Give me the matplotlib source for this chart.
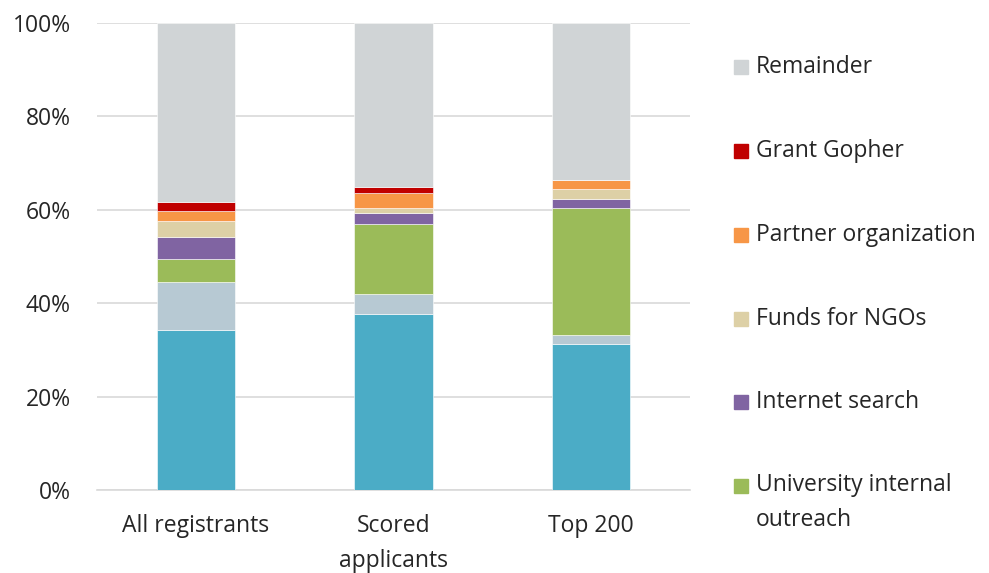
import matplotlib
matplotlib.use("Agg")
import matplotlib.pyplot as plt
from matplotlib.patches import Rectangle
from matplotlib.ticker import FuncFormatter

categories = ["All registrants", "Scored\napplicants", "Top 200"]
series_names = ["Other channel A", "Other channel B", "University internal\noutreach",
                "Internet search", "Funds for NGOs", "Partner organization",
                "Grant Gopher", "Remainder"]
blue = [34.3, 37.7, 31.2]
light_blue = [10.3, 4.3, 1.9]
university = [4.8, 14.9, 27.2]
internet = [4.7, 2.4, 2.0]
funds_ngos = [3.4, 1.0, 2.1]
partner = [2.2, 3.2, 2.0]
grant_gopher = [2.0, 1.4, 0.0]
remainder = [38.3, 35.1, 33.6]

values = [blue, light_blue, university, internet, funds_ngos, partner, grant_gopher, remainder]
colors = ["#4BACC6", "#B7C9D3", "#9BBB59", "#8064A2", "#DDD0A6", "#F79646", "#C00000", "#D0D4D6"]

FS = 16.5
LS = 1.62
TXT = "#262626"
plt.rcParams['font.family'] = ['Open Sans', 'DejaVu Sans']
fig = plt.figure(figsize=(9.89, 5.73), dpi=100)
W, H = 989, 573
ax = fig.add_axes([97 / W, 1 - 490 / H, (690 - 97) / W, (490 - 23) / H])

x = list(range(len(categories)))
bottom = [0.0] * len(categories)
for vals, col in zip(values, colors):
    ax.bar(x, vals, width=0.395, bottom=bottom, color=col, edgecolor="white", linewidth=0.4, zorder=3)
    bottom = [b + v for b, v in zip(bottom, vals)]

ax.set_xlim(-0.5, 2.5)
ax.set_ylim(0, 100)
ax.set_yticks([0, 20, 40, 60, 80, 100])
ax.yaxis.set_major_formatter(FuncFormatter(lambda v, p: f"{int(v)}%"))
ax.grid(axis="y", color="#D9D9D9", linewidth=1.2, zorder=0)
for s in ["left", "right", "top"]:
    ax.spines[s].set_visible(False)
ax.spines["bottom"].set_color("#D9D9D9")
ax.spines["bottom"].set_linewidth(1.2)
ax.set_xticks(x)
ax.set_xticklabels(categories, fontsize=FS, color=TXT, va="top", linespacing=LS)
ax.tick_params(axis="both", length=0, colors=TXT, labelsize=FS)
ax.tick_params(axis="x", pad=17)
ax.tick_params(axis="y", pad=19)

# legend (manual, top to bottom)
legend_items = list(zip(series_names[2:], colors[2:]))[::-1]
ys = [67, 151, 235, 319, 402, 486]
for (name, col), yy in zip(legend_items, ys):
    fig.patches.append(Rectangle((734 / W, 1 - (yy + 7) / H), 14 / W, 14 / H,
                                 transform=fig.transFigure, color=col, figure=fig))
    n_lines = name.count("\n") + 1
    yc = yy + (n_lines - 1) * 33 / 2
    fig.text(756 / W, 1 - yc / H, name, fontsize=FS, color=TXT, va="center",
             ha="left", linespacing=LS)

fig.savefig("out.png", dpi=100)
